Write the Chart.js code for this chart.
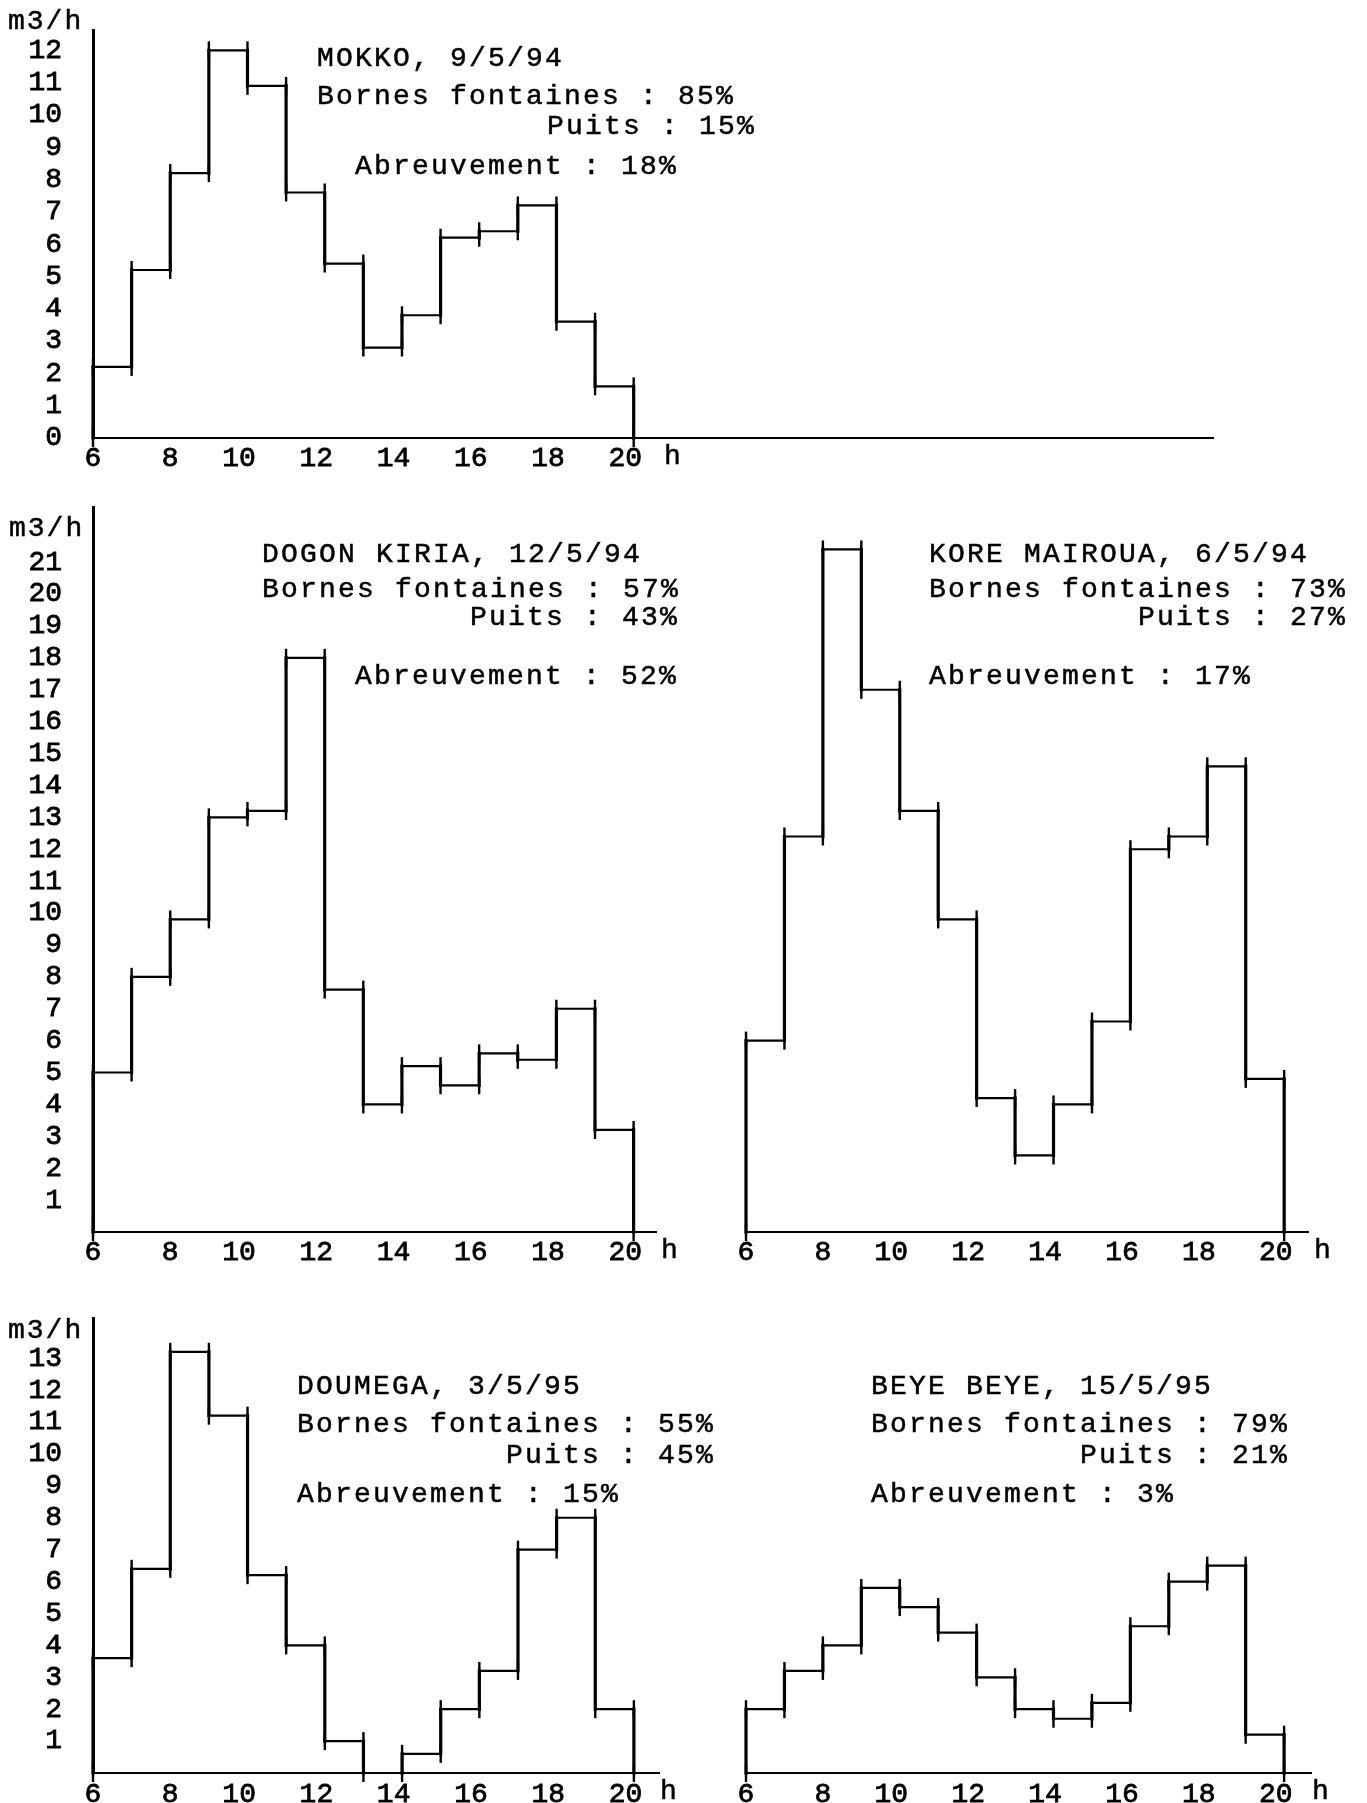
<!DOCTYPE html>
<html>
<head>
<meta charset="utf-8">
<script src="https://cdn.jsdelivr.net/npm/chart.js@4.4.1/dist/chart.umd.min.js"></script>
<style>
html,body{margin:0;padding:0;background:#fff;}
body{width:1367px;height:1803px;position:relative;overflow:hidden;}
canvas{position:absolute;}
.t{position:absolute;white-space:pre;font-family:'Liberation Mono','Courier New',monospace;color:#000;font-size:28px;letter-spacing:2.2px;line-height:34px;height:34px;-webkit-text-stroke:0.5px #000;}
</style>
</head>
<body>
<script>
// ---------- DATA ----------
const hourEdges = [6,7,8,9,10,11,12,13,14,15,16,17,18,19,20];
const xTickValues = [6,8,10,12,14,16,18,20];
const unitX = 'h';
const unitY = 'm3/h';

const mokkoValues       = [2.2,5.2,8.2,12.0,10.9,7.6,5.4,2.8,3.8,6.2,6.4,7.2,3.6,1.6];
const dogonKiriaValues  = [5.0,8.0,9.8,13.0,13.2,18.0,7.6,4.0,5.2,4.6,5.6,5.4,7.0,3.2];
const koreMairouaValues = [6.0,12.4,21.4,17.0,13.2,9.8,4.2,2.4,4.0,6.6,12.0,12.4,14.6,4.8];
const doumegaValues     = [3.6,6.4,13.2,11.2,6.2,4.0,1.0,0,0.6,2.0,3.2,7.0,8.0,2.0];
const beyeBeyeValues    = [2.0,3.2,4.0,5.8,5.2,4.4,3.0,2.0,1.7,2.2,4.6,6.0,6.5,1.2];

const yTicksMokko   = [0,1,2,3,4,5,6,7,8,9,10,11,12];
const yTicksDogon   = [1,2,3,4,5,6,7,8,9,10,11,12,13,14,15,16,17,18,19,20,21];
const yTicksDoumega = [1,2,3,4,5,6,7,8,9,10,11,12,13];

const mokkoText   = ['MOKKO, 9/5/94','Bornes fontaines : 85%','Puits : 15%','Abreuvement : 18%'];
const dogonText   = ['DOGON KIRIA, 12/5/94','Bornes fontaines : 57%','Puits : 43%','Abreuvement : 52%'];
const koreText    = ['KORE MAIROUA, 6/5/94','Bornes fontaines : 73%','Puits : 27%','Abreuvement : 17%'];
const doumegaText = ['DOUMEGA, 3/5/95','Bornes fontaines : 55%','Puits : 45%','Abreuvement : 15%'];
const beyeText    = ['BEYE BEYE, 15/5/95','Bornes fontaines : 79%','Puits : 21%','Abreuvement : 3%'];

// ---------- HELPERS ----------
const FONT = "'Liberation Mono','Courier New',monospace";

function addText(str, left, cy, extra) {
  const d = document.createElement('div');
  d.className = 't';
  d.textContent = str;
  d.style.left = left + 'px';
  d.style.top = (cy - 17) + 'px';
  if (extra) Object.assign(d.style, extra);
  document.body.appendChild(d);
}

function makeChart(values, L) {
  const c = document.createElement('canvas');
  c.width = L.cw; c.height = L.ch;
  c.style.left = L.cl + 'px'; c.style.top = L.ct + 'px';
  c.style.width = L.cw + 'px'; c.style.height = L.ch + 'px';
  document.body.appendChild(c);

  const first = hourEdges[0], last = hourEdges[hourEdges.length - 1];
  // step outline vertices from the data
  const stepData = [{x: first, y: 0}];
  values.forEach((v, i) => {
    stepData.push({x: hourEdges[i], y: v});
    stepData.push({x: hourEdges[i + 1], y: v});
  });
  stepData.push({x: last, y: 0});
  // end marks of every horizontal segment
  const capData = [{x: first, y: 0}, {x: last, y: 0}];
  values.forEach((v, i) => {
    capData.push({x: hourEdges[i], y: v});
    capData.push({x: hourEdges[i + 1], y: v});
  });

  const tickFont = {family: FONT, size: 28, weight: 'normal'};
  const padTop = L.at - L.ct;
  const padRight = L.cl + L.cw - L.ar;
  const yw = L.al - L.cl;
  const xh = L.ct + L.ch - L.ab;

  new Chart(c, {
    type: 'scatter',
    data: {
      datasets: [
        {
          data: stepData, showLine: true, borderColor: '#000', borderWidth: 2.2,
          pointRadius: 0, borderCapStyle: 'square', borderJoinStyle: 'miter', clip: false,
          segment: {
            borderWidth: ctx => (ctx.p0.parsed.x === ctx.p1.parsed.x ? 3.2 : 2.2)
          }
        },
        {
          data: capData, showLine: false, pointStyle: 'line', rotation: 90,
          pointRadius: 9, pointBorderWidth: 2.4, pointBorderColor: '#000',
          pointBackgroundColor: '#000', clip: false
        }
      ]
    },
    options: {
      responsive: false, animation: false, devicePixelRatio: 1,
      events: [],
      layout: {padding: {top: padTop, right: padRight, left: 0, bottom: 0}},
      plugins: {legend: {display: false}, tooltip: {enabled: false}},
      scales: {
        x: {
          type: 'linear', position: 'bottom', min: first, max: L.xMax,
          grid: {display: false, drawTicks: false},
          border: {display: true, color: '#000', width: 2},
          afterBuildTicks: s => { s.ticks = xTickValues.map(v => ({value: v})); },
          afterFit: s => { s.height = xh; s.paddingLeft = 0; s.paddingRight = 0; },
          ticks: {
            autoSkip: false, maxRotation: 0, minRotation: 0, padding: L.xPad,
            color: '#000', font: tickFont, textStrokeColor: '#000', textStrokeWidth: 0.8,
            callback: v => { const s = String(v); return s.length > 1 ? s + ' ' : s; }
          }
        },
        y: {
          type: 'linear', position: 'left', min: 0, max: L.yMax,
          grid: {display: false, drawTicks: false},
          border: {display: L.yAxis, color: '#000', width: 3},
          afterBuildTicks: s => { s.ticks = (L.yTicks || []).map(v => ({value: v})); },
          afterFit: s => { s.width = yw; s.paddingTop = 0; s.paddingBottom = 0; },
          ticks: {
            display: L.yAxis, autoSkip: false, padding: L.yPad,
            color: '#000', font: tickFont, textStrokeColor: '#000', textStrokeWidth: 0.8
          }
        }
      }
    }
  });
}

// ---------- CHARTS ----------
makeChart(mokkoValues, {cl: 0, ct: 0, cw: 1367, ch: 480, al: 93, at: 30, ar: 1213, ab: 438,
  xMax: 35, yMax: 12.63, yTicks: yTicksMokko, yAxis: true, yPad: 31, xPad: 4});
makeChart(dogonKiriaValues, {cl: 0, ct: 480, cw: 690, ch: 800, al: 93, at: 507, ar: 656, ab: 1232,
  xMax: 20.58, yMax: 22.73, yTicks: yTicksDogon, yAxis: true, yPad: 31, xPad: 4});
makeChart(koreMairouaValues, {cl: 690, ct: 480, cw: 677, ch: 800, al: 746, at: 507, ar: 1308, ab: 1232,
  xMax: 20.62, yMax: 22.73, yTicks: [], yAxis: false, yPad: 0, xPad: 4});
makeChart(doumegaValues, {cl: 0, ct: 1290, cw: 690, ch: 513, al: 93, at: 1318, ar: 659, ab: 1773,
  xMax: 20.65, yMax: 14.26, yTicks: yTicksDoumega, yAxis: true, yPad: 31, xPad: 5});
makeChart(beyeBeyeValues, {cl: 690, ct: 1290, cw: 677, ch: 513, al: 746, at: 1318, ar: 1311, ab: 1773,
  xMax: 20.70, yMax: 14.26, yTicks: [], yAxis: false, yPad: 0, xPad: 5});

// ---------- TEXT ----------
function addBlock(lines, lefts, cys) { lines.forEach((s, i) => addText(s, lefts[i], cys[i])); }
addBlock(mokkoText,   [317, 317, 547, 355], [59, 97, 127, 167]);
addBlock(dogonText,   [262, 262, 470, 355], [555, 590, 618, 677]);
addBlock(koreText,    [929, 929, 1138, 929], [555, 590, 618, 677]);
addBlock(doumegaText, [297, 297, 506, 297], [1387, 1425, 1456, 1495]);
addBlock(beyeText,    [871, 871, 1080, 871], [1387, 1425, 1456, 1495]);

addText(unitY, 8, 22, {letterSpacing: '2px'});
addText(unitY, 9, 529, {letterSpacing: '2px'});
addText(unitY, 8, 1331, {letterSpacing: '2px'});

addText(unitX, 664, 457);
addText(unitX, 661, 1251);
addText(unitX, 1314, 1251);
addText(unitX, 660, 1792);
addText(unitX, 1312, 1792);
</script>
</body>
</html>
